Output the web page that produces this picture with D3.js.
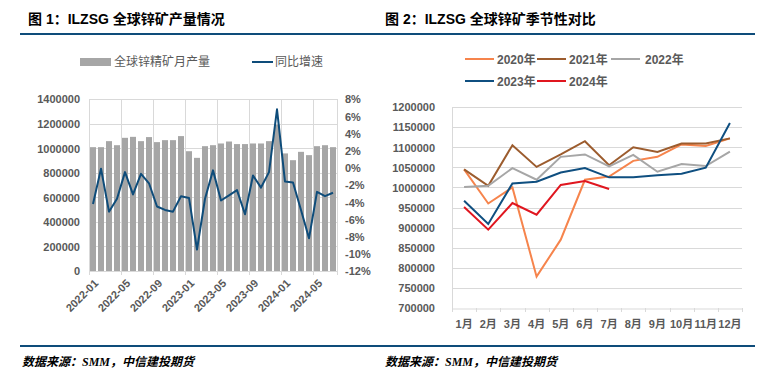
<!DOCTYPE html>
<html>
<head>
<meta charset="utf-8">
<script src="https://cdn.jsdelivr.net/npm/d3@7/dist/d3.min.js"></script>
<style>
body { margin: 0; background: #fff; }
text { font-family: "Liberation Sans", Arial, "Noto Sans CJK SC", sans-serif; }
.title { font-size: 14px; font-weight: bold; fill: #000; }
.tick text { font-size: 11px; font-weight: bold; fill: #595959; }
.lg { font-size: 12px; fill: #595959; }
.src { font-size: 12px; font-style: italic; font-weight: bold; fill: #000; font-family: "Liberation Serif", "Noto Sans CJK SC", serif; }
</style>
</head>
<body>
<div id="drawing"></div>
<script>
// chart 1: monthly output + yoy
var months = ["2022-01","2022-02","2022-03","2022-04","2022-05","2022-06","2022-07","2022-08","2022-09","2022-10","2022-11","2022-12",
  "2023-01","2023-02","2023-03","2023-04","2023-05","2023-06","2023-07","2023-08","2023-09","2023-10","2023-11","2023-12",
  "2024-01","2024-02","2024-03","2024-04","2024-05","2024-06","2024-07"];
var output = [1008000,1008000,1057000,1024000,1084000,1092000,1057000,1090000,1049000,1065000,1065000,1098000,
  975000,921000,1016000,1024000,1038000,1054000,1033000,1033000,1038000,1038000,1057000,1190000,
  957000,902000,970000,943000,1016000,1024000,1008000];
var yoy = [-4.2,-0.1,-5.1,-3.6,-0.5,-3.1,-0.7,-1.8,-4.5,-4.9,-5.1,-3.3,
  -3.5,-9.5,-3.6,-0.3,-3.8,-3.2,-2.6,-5.4,-0.9,-2.3,-0.5,6.8,
  -1.6,-1.7,-4.9,-8.2,-2.8,-3.3,-2.9];
var monthTicks = ["2022-01","2022-05","2022-09","2023-01","2023-05","2023-09","2024-01","2024-05"];
var leftTicks = [0,200000,400000,600000,800000,1000000,1200000,1400000];
var rightTicks = [-12,-10,-8,-6,-4,-2,0,2,4,6,8];

// chart 2: seasonal comparison
var cats = ["1月","2月","3月","4月","5月","6月","7月","8月","9月","10月","11月","12月"];
var years = ["2020年","2021年","2022年","2023年","2024年"];
var y2020 = [1045000,960000,1000000,778000,870000,1019000,1027000,1066000,1076000,1107000,1103000,1122000];
var y2021 = [1045000,1004000,1105000,1051000,1082000,1115000,1055000,1100000,1088000,1109000,1109000,1122000];
var y2022 = [1001000,1004000,1048000,1019000,1076000,1082000,1052000,1081000,1039000,1058000,1053000,1089000];
var y2023 = [967000,909000,1010000,1014000,1037000,1048000,1025000,1025000,1030000,1034000,1049000,1160000];
var y2024 = [951000,895000,961000,932000,1006000,1016000,996000];
var seasonTicks = [700000,750000,800000,850000,900000,950000,1000000,1050000,1100000,1150000,1200000];
var colors = ["#f6844c","#9c5c2e","#a6a6a6","#0f4f80","#e0161f"];

var svg = d3.select("#drawing").append("svg")
  .attr("width", 766).attr("height", 386);

var navy = "#0e4c7a", grid = "#d9d9d9";

// titles and rules
svg.append("text").attr("class", "title").attr("x", 28).attr("y", 24).text("图 1：ILZSG 全球锌矿产量情况");
svg.append("text").attr("class", "title").attr("x", 385).attr("y", 24).text("图 2：ILZSG 全球锌矿季节性对比");
svg.append("rect").attr("x", 20).attr("y", 33).attr("width", 735).attr("height", 2).attr("fill", navy);
svg.append("rect").attr("x", 20).attr("y", 345).attr("width", 735).attr("height", 2).attr("fill", navy);
svg.append("text").attr("class", "src").attr("x", 22).attr("y", 366).text("数据来源：SMM，中信建投期货");
svg.append("text").attr("class", "src").attr("x", 385).attr("y", 366).text("数据来源：SMM，中信建投期货");

// ---------- chart 1 ----------
var x1 = d3.scaleBand().domain(months).range([89, 337]).paddingInner(0.25).paddingOuter(0.125);
var yL = d3.scaleLinear().domain([0, 1400000]).range([271, 99]);
var yR = d3.scaleLinear().domain([-12, 8]).range([271, 99]);
var step = x1.step();

var g1 = svg.append("g");
g1.selectAll(".hg").data(leftTicks).enter().append("line")
  .attr("x1", 89).attr("x2", 337)
  .attr("y1", function(d) { return Math.round(yL(d)) + 0.5; })
  .attr("y2", function(d) { return Math.round(yL(d)) + 0.5; })
  .attr("stroke", grid);
var vlines = monthTicks.map(function(m) { return x1(m) - x1.step() * 0.125; }).concat([337]);
g1.selectAll(".vg").data(vlines).enter().append("line")
  .attr("x1", function(d) { return Math.round(d) + 0.5; })
  .attr("x2", function(d) { return Math.round(d) + 0.5; })
  .attr("y1", 99).attr("y2", 275)
  .attr("stroke", grid);

g1.selectAll(".bar").data(output).enter().append("rect")
  .attr("x", function(d, i) { return x1(months[i]); })
  .attr("width", x1.bandwidth())
  .attr("y", function(d) { return yL(d); })
  .attr("height", function(d) { return 271 - yL(d); })
  .attr("fill", "#a6a6a6");

var line1 = d3.line()
  .x(function(d, i) { return x1(months[i]) + x1.bandwidth() / 2; })
  .y(function(d) { return yR(d); });
g1.append("path").datum(yoy).attr("d", line1)
  .attr("fill", "none").attr("stroke", navy).attr("stroke-width", 2).attr("stroke-linejoin", "round");

var axL = g1.append("g").attr("transform", "translate(83,0)")
  .call(d3.axisLeft(yL).tickValues(leftTicks).tickSize(0).tickFormat(d3.format("d")));
axL.select(".domain").remove();
axL.selectAll("text").attr("dy", "0.35em");

var axR = g1.append("g").attr("transform", "translate(343,0)")
  .call(d3.axisRight(yR).tickValues(rightTicks).tickSize(0).tickFormat(function(d) { return d + "%"; }));
axR.select(".domain").remove();
axR.selectAll("text").attr("dy", "0.35em").attr("x", 2);

g1.selectAll(".xl").data(monthTicks).enter().append("text")
  .attr("class", "tick")
  .attr("transform", function(d) { return "translate(" + (x1(d) + x1.bandwidth() / 2 + 6) + ",284) rotate(-45)"; })
  .attr("text-anchor", "end")
  .style("font-size", "11px").style("font-weight", "bold").style("fill", "#595959")
  .text(function(d) { return d; });

// legend 1
svg.append("rect").attr("x", 80).attr("y", 58).attr("width", 31).attr("height", 8).attr("fill", "#a6a6a6");
svg.append("text").attr("class", "lg").attr("x", 114).attr("y", 66).text("全球锌精矿月产量");
svg.append("line").attr("x1", 252).attr("x2", 273).attr("y1", 62).attr("y2", 62).attr("stroke", navy).attr("stroke-width", 2);
svg.append("text").attr("class", "lg").attr("x", 275).attr("y", 66).text("同比增速");

// ---------- chart 2 ----------
var x2 = d3.scaleBand().domain(cats).range([452, 742]);
var y2 = d3.scaleLinear().domain([700000, 1200000]).range([308, 107]);
var g2 = svg.append("g");

g2.selectAll(".hg").data(seasonTicks.slice(1)).enter().append("line")
  .attr("x1", 452).attr("x2", 742)
  .attr("y1", function(d) { return Math.round(y2(d)) + 0.5; })
  .attr("y2", function(d) { return Math.round(y2(d)) + 0.5; })
  .attr("stroke", grid);
g2.append("line").attr("x1", 452.5).attr("x2", 452.5).attr("y1", 107).attr("y2", 308).attr("stroke", grid);

var axB = g2.append("g").attr("transform", "translate(0,308.5)")
  .call(d3.axisBottom(x2).tickSize(0).tickPadding(12));
axB.select(".domain").attr("stroke", grid);
g2.selectAll(".bt").data(d3.range(13)).enter().append("line")
  .attr("x1", function(d) { return Math.round(452 + d * x2.step()) + 0.5; })
  .attr("x2", function(d) { return Math.round(452 + d * x2.step()) + 0.5; })
  .attr("y1", 308).attr("y2", 312).attr("stroke", grid);

var axS = g2.append("g").attr("transform", "translate(438,0)")
  .call(d3.axisLeft(y2).tickValues(seasonTicks).tickSize(0).tickFormat(d3.format("d")));
axS.select(".domain").remove();
axS.selectAll("text").attr("dy", "0.35em");

var series = [y2020, y2021, y2022, y2023, y2024];
var line2 = d3.line()
  .x(function(d, i) { return x2(cats[i]) + x2.bandwidth() / 2; })
  .y(function(d) { return y2(d); });
g2.selectAll(".sl").data(series).enter().append("path")
  .attr("d", line2)
  .attr("fill", "none")
  .attr("stroke", function(d, i) { return colors[i]; })
  .attr("stroke-width", 2);

// legend 2
var lgPos = [[465, 59], [537, 59], [611, 59], [465, 81], [537, 81]];
years.forEach(function(yr, i) {
  var p = lgPos[i];
  svg.append("line").attr("x1", p[0]).attr("x2", p[0] + 29).attr("y1", p[1]).attr("y2", p[1])
    .attr("stroke", colors[i]).attr("stroke-width", 2);
  svg.append("text").attr("class", "lg").attr("x", p[0] + (i == 2 ? 34 : 32)).attr("y", p[1] + 4.5)
    .style("font-weight", "bold").text(yr);
});
</script>
</body>
</html>
